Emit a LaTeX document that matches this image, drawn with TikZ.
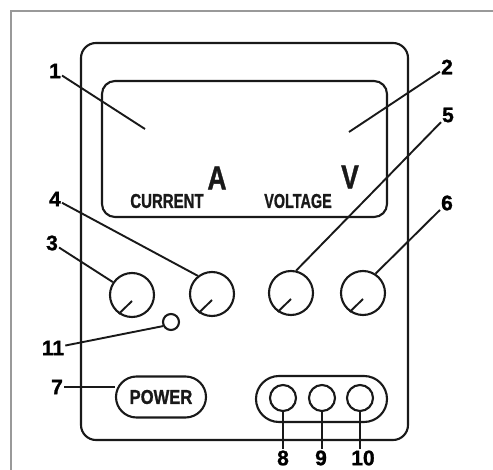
\documentclass[tikz,border=0pt]{standalone}
\usepackage{fontspec}
\setmainfont[BoldFeatures={FakeBold=1.2}]{Liberation Sans}
\usetikzlibrary{shapes.misc}
\begin{document}
\begin{tikzpicture}[
        x=1pt,
        y=-1pt,
        font=\bfseries,
        panel line/.style={draw=black!90, line width=2.1pt},
        leader line/.style={black!90, line width=1.9pt},
        frame line/.style={draw=gray!80, line width=1.6pt},
        num label/.style={font=\fontsize{21}{24}\bfseries\selectfont, inner sep=1pt},
        narrow text/.style={transform shape, xscale=#1, inner sep=0pt},
        small word/.style={font=\fontsize{20}{24}\bfseries\selectfont, text=black!90},
        unit letter/.style={font=\fontsize{33}{36}\bfseries\selectfont, text=black!90},
        knob/.style={circle, panel line, minimum size=44pt, inner sep=0pt},
        jack/.style={circle, panel line, minimum size=26pt, inner sep=0pt},
    ]

    \useasboundingbox (0,0) rectangle (493,470);
    \fill[white] (0,0) rectangle (493,470);

    % Outer frame of the scan (top and left only)
    \draw[frame line] (11,470) -- (11,11) -- (493,11);

    % Case and display
    \draw[panel line, rounded corners=15pt] (81,43) rectangle (408,440);
    \draw[panel line, rounded corners=13pt] (102,81) rectangle (387,217);

    % Display texts
    \node[small word, narrow text=0.75] (current) at (167,201) {CURRENT};
    \node[small word, narrow text=0.72] (voltage) at (298,201) {VOLTAGE};
    \node[unit letter, narrow text=0.8] (amps) at (217,178) {A};
    \node[unit letter, narrow text=0.8] (volts) at (350,177) {V};

    % Knobs with their pointers
    \foreach \k/\x/\y in {3/132/295, 4/212/294, 5/291/293, 6/363/293} {
        \node[knob] (knob-\k) at (\x,\y) {};
        \draw[leader line] ([yshift=-6pt]knob-\k.center) -- (knob-\k.235);
    }

    % Pilot lamp and switch
    \node[circle, panel line, minimum size=16pt, inner sep=0pt] (lamp) at (171,322) {};
    \node[rounded rectangle, panel line, minimum width=90pt, minimum height=41pt, inner sep=0pt] (power) at (161,397) {};
    \node[small word, narrow text=0.83] (powertext) at (161,397) {POWER};

    % Output terminals
    \node[rounded rectangle, panel line, minimum width=131pt, minimum height=46pt, inner sep=0pt] (terminals) at (321.5,399) {};
    \foreach \k/\x in {8/283, 9/322, 10/360} {
        \node[jack] (jack-\k) at (\x,398) {};
    }

    % Number labels
    \foreach \k/\x/\y in {1/55/71, 2/447/67, 3/52/243, 4/55/199, 5/448/115, 6/447/203,
                          7/57/387, 8/283/458, 9/321/458, 10/363/458, 11/53/348} {
        \node[num label] (num-\k) at (\x,\y) {\k};
    }

    % Free ends of the leaders inside the display
    \coordinate (display-a) at (145,129);
    \coordinate (display-v) at (349,132);

    % Leaders
    \draw[leader line] (num-1) -- (display-a);
    \draw[leader line] (num-2) -- (display-v);
    \foreach \k/\a in {3/146, 4/128, 5/77, 6/57} {
        \draw[leader line] (num-\k) -- (knob-\k.\a);
    }
    \draw[leader line] (num-11) -- (lamp.207);
    \draw[leader line] (num-7) -- (power.west |- num-7);
    \foreach \k in {8,9,10} {
        \draw[leader line] (jack-\k.south) -- (jack-\k.south |- num-\k.north);
    }

    \end{tikzpicture}
\end{document}
